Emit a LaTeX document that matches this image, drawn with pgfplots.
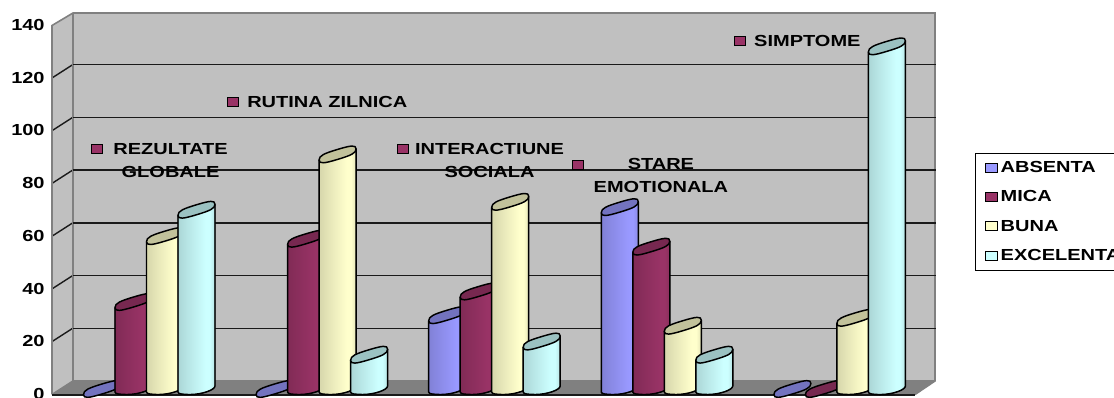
\documentclass[border=0pt]{standalone}
\usepackage{fontspec}
\setmainfont[FakeStretch=1.25]{Liberation Sans}
\usepackage{pgfplots}
\usepackage{pgfplotstable}
\pgfplotsset{compat=1.18}

\definecolor{colA}{HTML}{9999FF}
\definecolor{colM}{HTML}{993366}
\definecolor{colB}{HTML}{FFFFCC}
\definecolor{colE}{HTML}{CCFFFF}
\definecolor{wallgray}{HTML}{C0C0C0}
\definecolor{floorgray}{HTML}{808080}
\definecolor{gridblack}{HTML}{1A1A1A}

% Score counts per category, one column per rating
\pgfplotstableread{
i a m b e
0 0 33 58 68
1 0 57 89 13
2 28 37 71 18
3 69 54 24 13
4 0 0 27 130
}\ratings

% Horizontal cylinder shading: darker on the left, brightest past the middle
\newcommand\declarecylshade[2]{%
  \pgfdeclarehorizontalshading{#1}{100bp}{%
    color(0bp)=(#2!84!black);
    color(25bp)=(#2!84!black);
    color(38bp)=(#2!90!black);
    color(50bp)=(#2!95!black);
    color(62bp)=(#2);
    color(68bp)=(#2);
    color(75bp)=(#2!90!black);
    color(100bp)=(#2!90!black)}}
\declarecylshade{shadeA}{colA}
\declarecylshade{shadeM}{colM}
\declarecylshade{shadeB}{colB}
\declarecylshade{shadeE}{colE}

% One cylinder per data point: body height comes from the value, lengths in px units of 0.75pt.
% A zero value leaves only the flat top disc.
\newcommand\declarecyl[4]{%
  \pgfdeclareplotmark{#1}{%
    \pgftransformshift{\pgfpoint{#4*0.75pt}{4.125pt}}%
    \pgfmathsetmacro\h{\val*2.636}%
    \pgfmathparse{\val>0.5 ? 1 : 0}%
    \ifnum\pgfmathresult=1
    \path[x=0.75pt,y=0.75pt,shading=#2,shading angle=0]
      (-18.5,-5.5) -- (-18.5,{-3-\h})
      .. controls (-18.5,{-5-\h}) and (-14,{-5.5-\h}) .. (-6,{-5.5-\h})
      .. controls (5,{-5.5-\h}) and (18.5,{-1-\h}) .. (18.5,{3-\h})
      -- (18.5,5.5) -- cycle;
    \path[x=0.75pt,y=0.75pt,draw=black,line width=1.1pt,line join=round]
      (-18.5,-5.5) -- (-18.5,{-3-\h})
      .. controls (-18.5,{-5-\h}) and (-14,{-5.5-\h}) .. (-6,{-5.5-\h})
      .. controls (5,{-5.5-\h}) and (18.5,{-1-\h}) .. (18.5,{3-\h})
      -- (18.5,5.5);
    \fi
    \path[x=0.75pt,y=0.75pt,draw=black,line width=1.1pt,fill=#3,line join=round]
      (-18.5,-5.5)
      .. controls (-18.5,-9.8) and (-13.3,-9) .. (0,-5)
      .. controls (13.3,-1) and (18.5,1.2) .. (18.5,5.5)
      .. controls (18.5,9.8) and (13.3,9) .. (0,5)
      .. controls (-13.3,1) and (-18.5,-1.2) .. (-18.5,-5.5) -- cycle;
  }}
\declarecyl{cylA}{shadeA}{colA!75!black}{-36.3}
\declarecyl{cylM}{shadeM}{colM!78!black}{-4.8}
\declarecyl{cylB}{shadeB}{colB!76!black}{26.7}
\declarecyl{cylE}{shadeE}{colE!76!black}{58.2}

\pgfplotsset{
  cylinders/.style 2 args={
    only marks,
    scatter,
    scatter/@pre marker code/.code={},
    scatter/@post marker code/.code={},
    mark=#1,
    visualization depends on={y \as \val},
    legend image code/.code={%
      \draw[black,line width=0.85pt,fill=#2] (0pt,-4.4pt) rectangle (9pt,2.4pt);},
  },
}

\begin{document}
\begin{tikzpicture}
\begin{scope}[x=0.75pt,y=-0.75pt,yshift=298.5pt]
% Floor and walls of the box
\fill[wallgray] (73,13) rectangle (935,381);
\fill[wallgray] (52,25.5) -- (73,13) -- (73,381) -- (52,394.5) -- cycle;
\fill[floorgray] (52,394.5) -- (73,381) -- (935,381) -- (915,394.5) -- cycle;
\foreach \py in {78,130.7,183.4,236.2,288.9,341.6}
  \draw[gridblack,line width=1.05pt] (52,\py) -- (73,\py-13.5);
\draw[floorgray,line width=1.2pt] (52,394.5) -- (52,25.5) -- (73,13) -- (935,13) -- (935,381) -- (915,394.5);
\draw[floorgray,line width=1.2pt] (73,13) -- (73,381) -- (935,381);
\draw[floorgray,line width=1.2pt] (52,394.5) -- (73,381);
\draw[gridblack,line width=1pt] (52,395) -- (915,395);
\end{scope}

\begin{axis}[
  at={(39pt,2.625pt)},
  anchor=south west,
  scale only axis,
  width=647.25pt,
  height=276.75pt,
  xmin=-0.5, xmax=4.5,
  ymin=0, ymax=140,
  ytick={0,20,...,140},
  minor ytick={20,40,...,120},
  xtick=\empty,
  clip=false,
  axis line style={draw=none},
  major tick length=0pt,
  minor tick length=0pt,
  yminorgrids,
  minor grid style={gridblack,line width=1.1pt,xshift=15.75pt,yshift=10.1pt},
  /pgf/number format/assume math mode=true,
  ticklabel style={font=\bfseries\fontsize{12}{14}\selectfont},
  yticklabel style={xshift=-2pt,yshift=0.4pt},
  legend style={
    at={(1.0695,0.6553)},
    anchor=north west,
    draw=black,
    line width=0.85pt,
    font=\bfseries\fontsize{12}{14}\selectfont,
    row sep=0pt,
    nodes={minimum height=22pt,yshift=-1.2pt},
    inner xsep=7pt,
    inner ysep=0pt,
    /tikz/every even column/.append style={column sep=0pt},
  },
  legend cell align=left,
]

\addplot[cylinders={cylA}{colA}] table[x=i,y=a] {\ratings};
\addlegendentry{ABSENTA}
\addplot[cylinders={cylM}{colM}] table[x=i,y=m] {\ratings};
\addlegendentry{MICA}
\addplot[cylinders={cylB}{colB}] table[x=i,y=b] {\ratings};
\addlegendentry{BUNA}
\addplot[cylinders={cylE}{colE}] table[x=i,y=e] {\ratings};
\addlegendentry{EXCELENTA}

% Category labels, each with its key
\addplot[forget plot,only marks,mark=square*,mark size=3.6pt,
  mark options={fill=colM,draw=black,line width=0.85pt,xscale=1.18}]
  coordinates {(-0.239,93.1) (0.549,111) (1.534,93.1) (2.548,87.1) (3.486,134.1)};

\tikzset{catlabel/.style={align=center,inner sep=0pt,
  font=\bfseries\fontsize{12}{17.25}\selectfont}}
\node[catlabel] at (axis cs:0.187,88.8) {REZULTATE\\GLOBALE};
\node[catlabel,anchor=west] at (axis cs:0.630,111) {RUTINA ZILNICA};
\node[catlabel] at (axis cs:2.035,88.8) {INTERACTIUNE\\SOCIALA};
\node[catlabel] at (axis cs:3.028,83.1) {STARE\\EMOTIONALA};
\node[catlabel,anchor=west] at (axis cs:3.567,134.1) {SIMPTOME};
\end{axis}
% The page is exactly the chart area; the legend's right side runs off it
\pgfresetboundingbox
\path[use as bounding box] (0,0) rectangle (835.5pt,298.5pt);
\end{tikzpicture}
\end{document}
